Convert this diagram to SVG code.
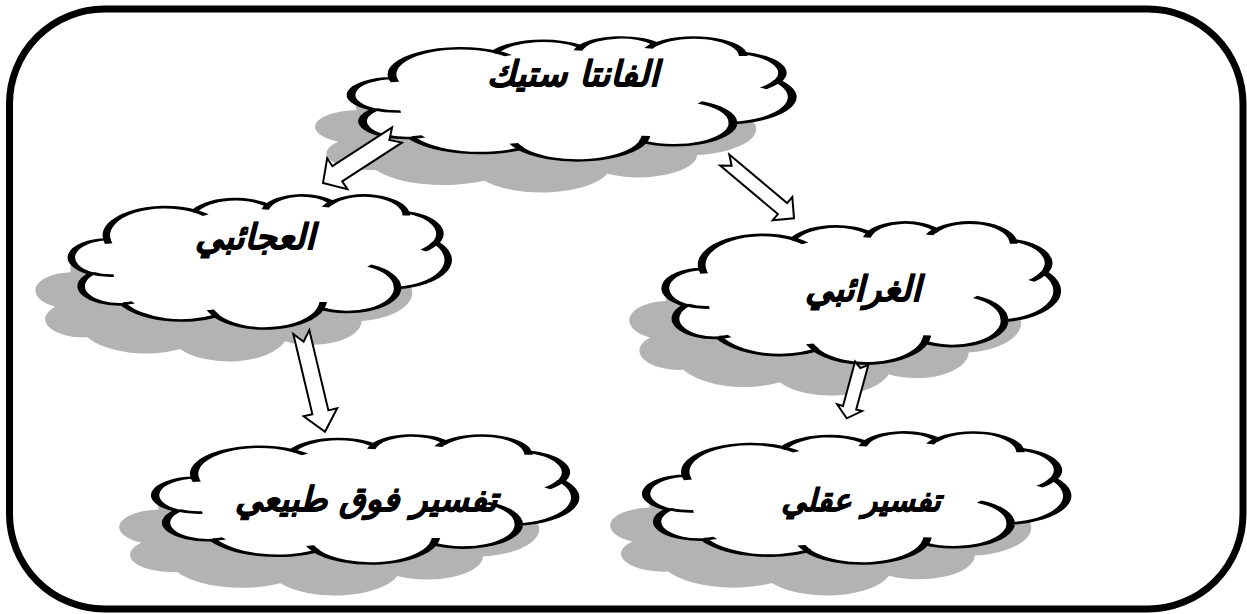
<svg xmlns="http://www.w3.org/2000/svg" xmlns:xlink="http://www.w3.org/1999/xlink" width="1247" height="614" viewBox="0 0 1247 614">
<style>
.frame{fill:#fff;stroke:#000;stroke-width:7}
.cloud{fill:#fff;stroke:#000;stroke-width:2;vector-effect:non-scaling-stroke}
.shadow{fill:#b3b3b3;stroke:none}
.inner{fill:none;stroke:#000;stroke-width:2;vector-effect:non-scaling-stroke}
.arrow{fill:#fff;stroke:#000;stroke-width:2;stroke-linejoin:miter}
.lbl{font-family:"DejaVu Sans",sans-serif;font-weight:bold;font-style:italic;font-size:34px;text-anchor:middle;fill:#000;stroke:#000;stroke-width:0.8}
</style>
<defs>
<path id="cloudShape" d="M9.03,33.26 A15.63,21.27 0 0 1 32.42,12.04 A12.34,16.82 0 0 1 51.98,7.95 A10.10,13.76 0 0 1 69.06,5.75 A11.24,15.27 0 0 1 88.70,12.91 A12.35,16.84 0 0 1 96.80,35.79 A15.68,21.34 0 0 1 86.58,69.92 A13.39,18.21 0 0 1 66.10,85.22 A15.63,21.33 0 0 1 38.15,90.89 A17.87,24.41 0 0 1 13.43,82.10 A10.09,13.70 0 0 1 4.89,59.14 A10.06,13.76 0 0 1 9.03,33.26 Z"/>
<path id="cloudInner" d="M10.86,60.59 A10.06,13.76 0 0 1 5.00,58.75 M16.04,80.78 A10.09,13.70 0 0 1 13.47,81.67 M38.14,90.49 A15.63,21.33 0 0 1 36.60,86.45 M66.73,80.44 A15.63,21.33 0 0 1 66.11,84.86 M79.00,53.13 A13.39,18.21 0 0 1 86.53,69.65 M96.75,35.54 A12.35,16.84 0 0 1 93.40,41.74 M88.71,12.56 A11.24,15.27 0 0 1 88.89,15.49 M67.31,9.15 A11.24,15.27 0 0 1 69.03,5.42 M51.25,10.93 A10.10,13.76 0 0 1 52.08,7.71 M32.41,12.02 A15.63,21.27 0 0 1 35.42,15.14 M9.55,36.55 A15.63,21.27 0 0 1 9.03,33.27"/>
</defs>

<rect class="frame" x="9.5" y="9" width="1233.5" height="600" rx="95" ry="95"/>

<g id="node-fantastic">
<use href="#cloudShape" xlink:href="#cloudShape" class="shadow" transform="translate(317,69) scale(4.39,1.23)"/>
<g transform="translate(353,37) scale(4.39,1.23)">
<use href="#cloudShape" xlink:href="#cloudShape" class="cloud"/>
<use href="#cloudInner" xlink:href="#cloudInner" class="inner"/>
</g>
<text class="lbl" x="573" y="86" style="font-size:35px">الفانتا ستيك</text>
</g>

<g id="node-marvelous">
<use href="#cloudShape" xlink:href="#cloudShape" class="shadow" transform="translate(37,228) scale(3.75,1.33)"/>
<g transform="translate(73,195) scale(3.75,1.33)">
<use href="#cloudShape" xlink:href="#cloudShape" class="cloud"/>
<use href="#cloudInner" xlink:href="#cloudInner" class="inner"/>
</g>
<text class="lbl" x="255" y="249" style="font-size:35px">العجائبي</text>
</g>

<g id="node-uncanny">
<use href="#cloudShape" xlink:href="#cloudShape" class="shadow" transform="translate(631,254) scale(3.90,1.41)"/>
<g transform="translate(667,222) scale(3.90,1.41)">
<use href="#cloudShape" xlink:href="#cloudShape" class="cloud"/>
<use href="#cloudInner" xlink:href="#cloudInner" class="inner"/>
</g>
<text class="lbl" x="863" y="301" style="font-size:35px">الغرائبي</text>
</g>

<g id="node-supernatural">
<use href="#cloudShape" xlink:href="#cloudShape" class="shadow" transform="translate(121,467) scale(4.18,1.28)"/>
<g transform="translate(157,435) scale(4.18,1.28)">
<use href="#cloudShape" xlink:href="#cloudShape" class="cloud"/>
<use href="#cloudInner" xlink:href="#cloudInner" class="inner"/>
</g>
<text class="lbl" x="366" y="511" style="font-size:34px">تفسير فوق طبيعي</text>
</g>

<g id="node-rational">
<use href="#cloudShape" xlink:href="#cloudShape" class="shadow" transform="translate(612,464) scale(4.19,1.31)"/>
<g transform="translate(648,432) scale(4.19,1.31)">
<use href="#cloudShape" xlink:href="#cloudShape" class="cloud"/>
<use href="#cloudInner" xlink:href="#cloudInner" class="inner"/>
</g>
<text class="lbl" x="861" y="511" style="font-size:31px">تفسير عقلي</text>
</g>

<g id="connectors">
<polygon class="arrow" points="392.1,127.4 332.4,166.2 327.2,158.2 323,183 347.4,189.2 342.2,181.3 401.9,142.6 389.4,139.9"/>
<polygon class="arrow" points="720.1,165.5 777.9,214.1 772.7,220.2 794,218.3 792.3,197.0 787.1,203.1 729.3,154.5 731.6,165.8"/>
<polygon class="arrow" points="293.3,333.9 312.4,414.2 303.6,416.3 325,431.7 337.2,408.3 328.4,410.4 309.3,330.1 303.6,341.7"/>
<polygon class="arrow" points="855.1,361.5 843.0,405.9 837.1,404.3 846.7,418.3 862.1,411.1 856.2,409.5 868.3,365.1 860.4,368.1"/>
</g>
</svg>
